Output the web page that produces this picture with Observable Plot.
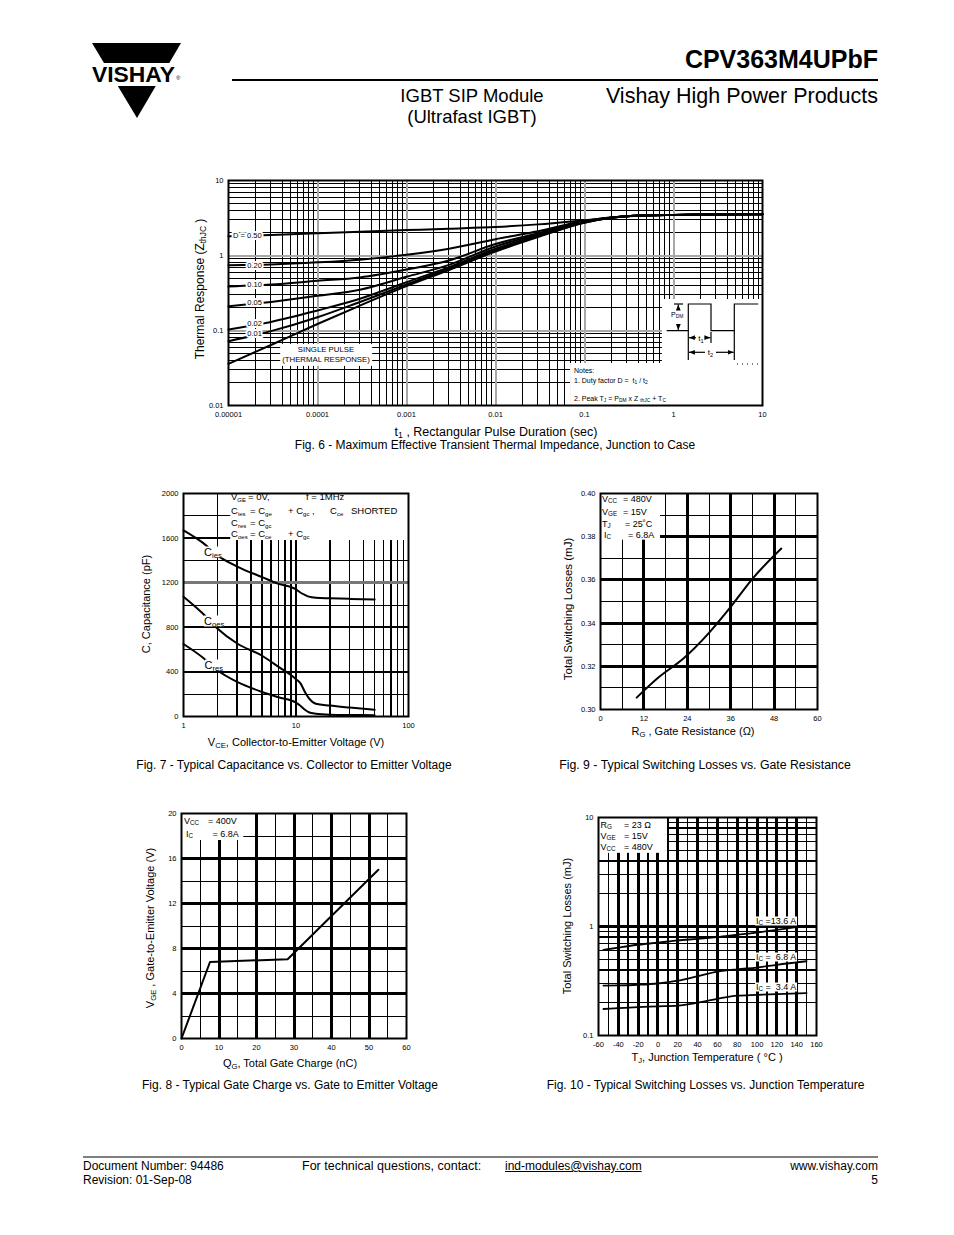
<!DOCTYPE html>
<html><head><meta charset="utf-8">
<script src="https://cdn.jsdelivr.net/npm/d3@7"></script>
<script src="https://cdn.jsdelivr.net/npm/@observablehq/plot@0.6"></script>
<style>
html,body{margin:0;padding:0;background:#fff;}
#page{position:relative;width:954px;height:1235px;background:#fff;overflow:hidden;font-family:"Liberation Sans",Arial,Helvetica,sans-serif;color:#000;}
.t{position:absolute;white-space:pre;line-height:1;}
.t sub{font-size:70%;vertical-align:-0.28em;line-height:0;}
.t.sm sub{font-size:64%;}
.wb{background:#fff;}
</style></head>
<body><div id="page"></div>
<script>
// ---------------- DATA ----------------
// Fig 6: transient thermal impedance
const f6Time = [1e-5, 3e-5, 1e-4, 3e-4, 1e-3, 3e-3, 1e-2, 3e-2, 0.1, 0.3, 1, 3, 10];
const f6D50 = [1.80, 1.88, 1.98, 2.08, 2.18, 2.28, 2.40, 2.60, 2.95, 3.34, 3.48, 3.53, 3.55];
const f6D20 = [0.74, 0.76, 0.81, 0.88, 1.02, 1.23, 1.65, 2.10, 2.90, 3.34, 3.48, 3.53, 3.55];
const f6D10 = [0.385, 0.41, 0.46, 0.51, 0.65, 0.86, 1.42, 1.98, 2.85, 3.34, 3.48, 3.53, 3.55];
const f6D05 = [0.21, 0.24, 0.29, 0.35, 0.52, 0.75, 1.32, 1.90, 2.82, 3.34, 3.48, 3.53, 3.55];
const f6D02 = [0.103, 0.13, 0.185, 0.265, 0.44, 0.70, 1.23, 1.85, 2.78, 3.34, 3.48, 3.53, 3.55];
const f6D01 = [0.072, 0.098, 0.15, 0.24, 0.41, 0.67, 1.18, 1.80, 2.76, 3.34, 3.48, 3.53, 3.55];
const f6Single = [0.036, 0.064, 0.122, 0.215, 0.39, 0.64, 1.13, 1.76, 2.74, 3.33, 3.48, 3.53, 3.55];
const f6XTicks = [0.00001, 0.0001, 0.001, 0.01, 0.1, 1, 10];
const f6XLabels = ["0.00001", "0.0001", "0.001", "0.01", "0.1", "1", "10"];
const f6YTicks = [0.01, 0.1, 1, 10];
const f6YLabels = ["0.01", "0.1", "1", "10"];
const f6Names = ["D = 0.50", "0.20", "0.10", "0.05", "0.02", "0.01"];

// Fig 7: capacitance vs VCE
const f7Vce = [1, 1.5, 2, 3, 5, 7, 10, 11, 12, 13, 15, 20, 30, 50];
const f7Cies = [1670, 1555, 1445, 1345, 1250, 1190, 1140, 1110, 1090, 1075, 1065, 1060, 1055, 1050];
const f7Coes = [1075, 920, 790, 655, 545, 445, 335, 295, 220, 165, 115, 98, 80, 60];
const f7Cres = [650, 525, 415, 310, 220, 172, 125, 95, 60, 38, 25, 16, 13, 12];
const f7XTicks = [1, 10, 100];
const f7XLabels = ["1", "10", "100"];
const f7YTicks = [0, 400, 800, 1200, 1600, 2000];
const f7YLabels = ["0", "400", "800", "1200", "1600", "2000"];

// Fig 8: gate charge
const f8Qg = [0, 7.6, 28.3, 52.5];
const f8Vge = [0, 6.8, 7.05, 15];
const f8XTicks = [0, 10, 20, 30, 40, 50, 60];
const f8XLabels = ["0", "10", "20", "30", "40", "50", "60"];
const f8YTicks = [0, 4, 8, 12, 16, 20];
const f8YLabels = ["0", "4", "8", "12", "16", "20"];

// Fig 9: switching losses vs gate resistance
const f9Rg = [10, 16, 23, 30, 36, 42, 50];
const f9E = [0.3055, 0.3148, 0.3237, 0.3355, 0.3475, 0.3605, 0.3745];
const f9XTicks = [0, 12, 24, 36, 48, 60];
const f9XLabels = ["0", "12", "24", "36", "48", "60"];
const f9YTicks = [0.30, 0.32, 0.34, 0.36, 0.38, 0.40];
const f9YLabels = ["0.30", "0.32", "0.34", "0.36", "0.38", "0.40"];

// Fig 10: switching losses vs junction temperature
const f10Tj = [-55, -40, -20, 0, 20, 40, 60, 80, 100, 120, 150];
const f10Ic136 = [0.61, 0.64, 0.68, 0.71, 0.745, 0.77, 0.80, 0.84, 0.88, 0.93, 1.02];
const f10Ic68 = [0.287, 0.288, 0.292, 0.30, 0.318, 0.35, 0.385, 0.405, 0.42, 0.445, 0.48];
const f10Ic34 = [0.175, 0.178, 0.182, 0.185, 0.188, 0.20, 0.217, 0.232, 0.236, 0.24, 0.245];
const f10XTicks = [-60, -40, -20, 0, 20, 40, 60, 80, 100, 120, 140, 160];
const f10XLabels = ["-60", "-40", "-20", "0", "20", "40", "60", "80", "100", "120", "140", "160"];
const f10YTicks = [0.1, 1, 10];
const f10YLabels = ["0.1", "1", "10"];

// ---------------- HELPERS ----------------
const FONT = '"Liberation Sans", Arial, Helvetica, sans-serif';
const page = document.getElementById("page");

function txt(html, x, y, size, anchor, opt) {
  opt = opt || {};
  const d = document.createElement("div");
  d.className = "t" + (opt.bg ? " wb" : "") + (opt.sm ? " sm" : "");
  d.innerHTML = html;
  d.style.left = x + "px";
  d.style.top = y + "px";
  d.style.fontSize = size + "px";
  if (opt.bold) d.style.fontWeight = "bold";
  if (opt.pad) d.style.padding = opt.pad;
  if (opt.underline) d.style.textDecoration = "underline";
  if (opt.lh) d.style.lineHeight = opt.lh;
  if (opt.align) d.style.textAlign = opt.align;
  const ax = anchor === "middle" ? "-50%" : anchor === "end" ? "-100%" : "0";
  d.style.transform = opt.rotate ? "translate(-50%,-50%) rotate(-90deg)" : `translate(${ax},-50%)`;
  page.appendChild(d);
  return d;
}

function tidy(xs, series) {
  return series.flatMap(s => xs.map((x, i) => ({x, y: s.values[i], z: s.name})));
}
const logMinor = (a, b) => d3.range(a, b).flatMap(e => d3.range(2, 10).map(k => k * Math.pow(10, e)));

function axes(xt, xl, yt, yl) {
  const xm = new Map(xt.map((d, i) => [d, xl[i]]));
  const ym = new Map(yt.map((d, i) => [d, yl[i]]));
  return [
    Plot.axisX({ticks: xt, tickSize: 0, tickPadding: 6, tickFormat: d => xm.get(d), label: null}),
    Plot.axisY({ticks: yt, tickSize: 0, tickPadding: 5, tickFormat: d => ym.get(d), label: null})
  ];
}
const grid = (arr, dim, c = "#000", w = 1) =>
  (dim === "x" ? Plot.ruleX : Plot.ruleY)(arr, {stroke: c, strokeWidth: w, shapeRendering: "crispEdges"});

function chart(o) {
  const svg = Plot.plot({
    width: o.width, height: o.height,
    marginLeft: o.ml, marginRight: o.mr, marginTop: o.mt, marginBottom: o.mb,
    x: o.x, y: o.y,
    style: {fontFamily: FONT, fontSize: "7.5px", color: "#000", background: "transparent", overflow: "visible"},
    marks: o.marks
  });
  svg.style.position = "absolute";
  svg.style.left = o.left + "px";
  svg.style.top = o.top + "px";
  svg.style.maxWidth = "none";
  page.appendChild(svg);
  return svg;
}
const frame = Plot.frame({stroke: "#000", strokeWidth: 2});

// ---------------- FIG 6 ----------------
const f6Data = tidy(f6Time, [
  {name: "0.50", values: f6D50}, {name: "0.20", values: f6D20}, {name: "0.10", values: f6D10},
  {name: "0.05", values: f6D05}, {name: "0.02", values: f6D02}, {name: "0.01", values: f6D01},
  {name: "single", values: f6Single}
]);
const f6LabelPos = [
  {x: 1.63e-5, y: 1.82}, {x: 1.96e-5, y: 0.736}, {x: 1.96e-5, y: 0.406},
  {x: 1.96e-5, y: 0.234}, {x: 1.96e-5, y: 0.123}, {x: 1.96e-5, y: 0.090}
].map((p, i) => ({...p, text: f6Names[i]}));

chart({
  left: 180, top: 172, width: 600, height: 255, ml: 48, mr: 18, mt: 8, mb: 22,
  x: {type: "log", domain: [1e-5, 10]},
  y: {type: "log", domain: [0.01, 10]},
  marks: [
    grid(logMinor(-5, 1), "x"),
    grid(logMinor(-2, 1), "y"),
    grid([1e-4, 1e-3, 1e-2, 1e-1, 1], "x", "#a8a8a8", 2),
    grid([0.1, 1], "y", "#a8a8a8", 2),
    Plot.rect([{x1: 0.75, x2: 10, y1: 0.0363, y2: 0.259}, {x1: 0.0697, x2: 10, y1: 0.01, y2: 0.0363}],
      {x1: "x1", x2: "x2", y1: "y1", y2: "y2", fill: "#fff"}),
    Plot.line(f6Data, {x: "x", y: "y", z: "z", stroke: "#000", strokeWidth: 2, curve: "monotone-x"}),
    Plot.text(f6LabelPos, {x: "x", y: "y", text: "text", fontSize: 7.5, fill: "#000", stroke: "#fff", strokeWidth: 4}),
    ...axes(f6XTicks, f6XLabels, f6YTicks, f6YLabels),
    frame
  ]
});

// ---------------- FIG 7 ----------------
const f7Data = tidy(f7Vce, [
  {name: "Cies", values: f7Cies}, {name: "Coes", values: f7Coes}, {name: "Cres", values: f7Cres}
]);
chart({
  left: 140, top: 485, width: 280, height: 250, ml: 43, mr: 12, mt: 8, mb: 19,
  x: {type: "log", domain: [1, 100]},
  y: {domain: [0, 2000]},
  marks: [
    grid(logMinor(0, 2), "x", "#000", 1.5),
    grid([10], "x", "#000", 2),
    grid([200, 600, 1000, 1400, 1800], "y", "#000", 1),
    grid([400, 800, 1600], "y", "#000", 2),
    grid([1200], "y", "#777", 2.5),
    Plot.rect([{x1: 2.63, x2: 100, y1: 1578, y2: 2000}], {x1: "x1", x2: "x2", y1: "y1", y2: "y2", fill: "#fff"}),
    Plot.line(f7Data, {x: "x", y: "y", z: "z", stroke: "#000", strokeWidth: 2, curve: "monotone-x"}),
    ...axes(f7XTicks, f7XLabels, f7YTicks, f7YLabels),
    frame
  ]
});

// ---------------- FIG 9 ----------------
chart({
  left: 560, top: 485, width: 270, height: 240, ml: 40, mr: 13, mt: 8, mb: 16,
  x: {domain: [0, 60]},
  y: {domain: [0.30, 0.40]},
  marks: [
    grid([6, 18, 30, 42, 54], "x", "#000", 1),
    grid([12, 24, 36, 48], "x", "#000", 3),
    grid([0.31, 0.33, 0.35, 0.37, 0.39], "y", "#000", 1),
    grid([0.32, 0.34, 0.36, 0.38], "y", "#000", 3),
    Plot.rect([{x1: 0, x2: 16.6, y1: 0.3784, y2: 0.40}], {x1: "x1", x2: "x2", y1: "y1", y2: "y2", fill: "#fff"}),
    Plot.line(f9Rg.map((r, i) => ({x: r, y: f9E[i]})), {x: "x", y: "y", stroke: "#000", strokeWidth: 2, curve: "monotone-x"}),
    ...axes(f9XTicks, f9XLabels, f9YTicks, f9YLabels),
    frame
  ]
});

// ---------------- FIG 8 ----------------
chart({
  left: 140, top: 805, width: 280, height: 250, ml: 41, mr: 14, mt: 8, mb: 17,
  x: {domain: [0, 60]},
  y: {domain: [0, 20]},
  marks: [
    grid([5, 15, 25, 35, 45, 55], "x", "#000", 1),
    grid([10, 20, 30, 40, 50], "x", "#000", 3),
    grid([2, 6, 10, 14, 18], "y", "#000", 1),
    grid([4, 8, 12, 16], "y", "#000", 3),
    Plot.rect([{x1: 0, x2: 16.6, y1: 17.6, y2: 20}], {x1: "x1", x2: "x2", y1: "y1", y2: "y2", fill: "#fff"}),
    Plot.line(f8Qg.map((q, i) => ({x: q, y: f8Vge[i]})), {x: "x", y: "y", stroke: "#000", strokeWidth: 2}),
    ...axes(f8XTicks, f8XLabels, f8YTicks, f8YLabels),
    frame
  ]
});

// ---------------- FIG 10 ----------------
const f10Data = tidy(f10Tj, [
  {name: "13.6", values: f10Ic136}, {name: "6.8", values: f10Ic68}, {name: "3.4", values: f10Ic34}
]);
chart({
  left: 560, top: 809, width: 270, height: 245, ml: 38, mr: 14, mt: 8, mb: 19,
  x: {domain: [-60, 160]},
  y: {type: "log", domain: [0.1, 10]},
  marks: [
    grid(d3.range(-50, 160, 20), "x", "#000", 1.5),
    grid(d3.range(-40, 160, 20), "x", "#000", 3),
    grid(logMinor(-1, 1), "y", "#000", 1.5),
    grid([1], "y", "#000", 3),
    Plot.rect([{x1: -60, x2: 9.6, y1: 4.69, y2: 10}], {x1: "x1", x2: "x2", y1: "y1", y2: "y2", fill: "#fff"}),
    Plot.line(f10Data, {x: "x", y: "y", z: "z", stroke: "#000", strokeWidth: 1.8, curve: "monotone-x"}),
    ...axes(f10XTicks, f10XLabels, f10YTicks, f10YLabels),
    frame
  ]
});

// ---------------- OVERLAY GRAPHICS ----------------
const ov = d3.create("svg").attr("width", 954).attr("height", 1235)
  .style("position", "absolute").style("left", "0px").style("top", "0px").style("pointer-events", "none");
const defs = ov.append("defs");
defs.append("marker").attr("id", "ah").attr("viewBox", "0 0 10 10").attr("refX", 10).attr("refY", 5)
  .attr("markerWidth", 5).attr("markerHeight", 5).attr("orient", "auto")
  .append("path").attr("d", "M0,1L10,5L0,9z").attr("fill", "#000");
// logo
ov.append("polygon").attr("points", "92,43 181,43 137,118").attr("fill", "#000");
ov.append("rect").attr("x", 84).attr("y", 63).attr("width", 104).attr("height", 23).attr("fill", "#fff");
ov.append("text").attr("x", 92).attr("y", 81.5).attr("font-size", 21.5).attr("font-weight", "bold")
  .attr("font-family", FONT).attr("textLength", 83).attr("lengthAdjust", "spacingAndGlyphs").text("VISHAY");
ov.append("text").attr("x", 176).attr("y", 80).attr("font-size", 6).attr("font-family", FONT).text("®");
// rules
ov.append("line").attr("x1", 232).attr("x2", 878).attr("y1", 80).attr("y2", 80).attr("stroke", "#000").attr("stroke-width", 2);
ov.append("line").attr("x1", 83).attr("x2", 878).attr("y1", 1157).attr("y2", 1157).attr("stroke", "#000").attr("stroke-width", 1.2);
// pulse diagram (Fig 6 inset)
const pg = ov.append("g").attr("stroke", "#000").attr("fill", "none").attr("stroke-width", 1.2);
pg.append("path").attr("d", "M666.7,330.7H688.3V304H711V330.7H734.3V304H758.3");
pg.append("line").attr("x1", 678.3).attr("y1", 310).attr("x2", 678.3).attr("y2", 304.6).attr("marker-end", "url(#ah)");
pg.append("line").attr("x1", 678.3).attr("y1", 324).attr("x2", 678.3).attr("y2", 330.1).attr("marker-end", "url(#ah)");
pg.append("line").attr("x1", 674).attr("y1", 304).attr("x2", 683).attr("y2", 304);
pg.append("line").attr("x1", 696).attr("y1", 337.7).attr("x2", 688.9).attr("y2", 337.7).attr("marker-end", "url(#ah)");
pg.append("line").attr("x1", 706).attr("y1", 337.7).attr("x2", 710.4).attr("y2", 337.7).attr("marker-end", "url(#ah)");
pg.append("line").attr("x1", 711).attr("y1", 332).attr("x2", 711).attr("y2", 343);
pg.append("line").attr("x1", 705).attr("y1", 352.3).attr("x2", 688.9).attr("y2", 352.3).attr("marker-end", "url(#ah)");
pg.append("line").attr("x1", 716).attr("y1", 352.3).attr("x2", 733.7).attr("y2", 352.3).attr("marker-end", "url(#ah)");
pg.append("line").attr("x1", 688.3).attr("y1", 330.7).attr("x2", 688.3).attr("y2", 360);
pg.append("line").attr("x1", 734.3).attr("y1", 330.7).attr("x2", 734.3).attr("y2", 360);
pg.append("line").attr("x1", 737).attr("y1", 364).attr("x2", 761).attr("y2", 364).attr("stroke-dasharray", "1,4");
page.appendChild(ov.node());

// ---------------- TEXT ----------------
// header
txt("CPV363M4UPbF", 878, 59, 25, "end", {bold: true});
txt("IGBT SIP Module", 472, 96, 18.5, "middle");
txt("(Ultrafast IGBT)", 472, 117, 18.5, "middle");
txt("Vishay High Power Products", 878, 97, 21.5, "end");

// Fig 6 texts
txt("Thermal Response (Z<sub>thJC</sub> )", 200, 289, 12, "middle", {rotate: true});
txt("t<sub>1</sub> , Rectangular Pulse Duration (sec)", 496, 432, 12.5, "middle");
txt("Fig. 6 - Maximum Effective Transient Thermal Impedance, Junction to Case", 495, 445, 12, "middle");
txt("SINGLE PULSE\n(THERMAL RESPONSE)", 326, 355, 7.8, "middle", {bg: true, lh: "1.3", align: "center", pad: "1px 2px"});
txt("Notes:", 574, 369.5, 7);
txt("1. Duty factor D =  t<sub>1</sub> / t<sub>2</sub>", 574, 380, 7);
txt("2. Peak T<sub>J</sub> = P<sub>DM</sub> x Z <sub>thJC</sub> + T<sub>C</sub>", 574, 398, 7);
txt("P<sub>DM</sub>", 671, 314, 7);
txt("t<sub>1</sub>", 701, 338.5, 8, "middle");
txt("t<sub>2</sub>", 710.5, 353, 8, "middle");

// Fig 7 texts
txt("C, Capacitance (pF)", 146, 604, 11, "middle", {rotate: true});
txt("V<sub>CE</sub>, Collector-to-Emitter Voltage (V)", 296, 742, 11, "middle");
txt("Fig. 7 - Typical Capacitance vs. Collector to Emitter Voltage", 294, 765, 12, "middle");
const L7 = 9.5;
txt("V<sub>GE</sub>", 231, 497.3, L7, "start", {sm: true}); txt("= 0V,", 248, 497.3, L7); txt("f = 1MHz", 306, 497.3, L7);
txt("C<sub>ies</sub>", 231, 510.7, L7, "start", {sm: true}); txt("= C<sub>ge</sub>", 250, 510.7, L7, "start", {sm: true});
txt("+ C<sub>gc</sub> ,", 288, 510.7, L7, "start", {sm: true});
txt("C<sub>ce</sub>", 330, 510.7, L7, "start", {sm: true}); txt("SHORTED", 351, 510.7, L7);
txt("C<sub>res</sub>", 231, 523.3, L7, "start", {sm: true}); txt("= C<sub>gc</sub>", 250, 523.3, L7, "start", {sm: true});
txt("C<sub>oes</sub>", 231, 533.5, L7, "start", {sm: true}); txt("= C<sub>ce</sub>", 250, 533.5, L7, "start", {sm: true});
txt("+ C<sub>gc</sub>", 288, 533.5, L7, "start", {sm: true});
txt("C<sub>ies</sub>", 204, 552, 11, "start", {bg: true});
txt("C<sub>oes</sub>", 204, 621, 11, "start", {bg: true});
txt("C<sub>res</sub>", 204.5, 665, 11, "start", {bg: true});

// Fig 9 texts
txt("Total Switching Losses (mJ)", 569, 609, 11.5, "middle", {rotate: true});
txt("R<sub>G</sub> , Gate Resistance (Ω)", 693, 731, 11, "middle");
txt("Fig. 9 - Typical Switching Losses vs. Gate Resistance", 705, 765, 12.3, "middle");
txt("V<sub>CC</sub>", 602, 499, 9); txt("= 480V", 623, 499, 9);
txt("V<sub>GE</sub>", 602, 512, 9); txt("= 15V", 623, 512, 9);
txt("T<sub>J</sub>", 602, 523.5, 9); txt("= 25˚C", 625, 523.5, 9);
txt("I<sub>C</sub>", 604, 534.5, 9); txt("= 6.8A", 628, 534.5, 9);

// Fig 8 texts
txt("V<sub>GE</sub> , Gate-to-Emitter Voltage (V)", 150, 928, 11, "middle", {rotate: true});
txt("Q<sub>G</sub>, Total Gate Charge (nC)", 290, 1063, 11, "middle");
txt("Fig. 8 - Typical Gate Charge vs. Gate to Emitter Voltage", 290, 1085, 12, "middle");
txt("V<sub>CC</sub>", 184, 820.7, 9); txt("= 400V", 208, 820.7, 9);
txt("I<sub>C</sub>", 186, 834, 9); txt("= 6.8A", 212.5, 834, 9);

// Fig 10 texts
txt("Total Switching Losses (mJ)", 567, 926, 11, "middle", {rotate: true});
txt("T<sub>J</sub>, Junction Temperature ( °C )", 707, 1057, 11, "middle");
txt("Fig. 10 - Typical Switching Losses vs. Junction Temperature", 705.5, 1085, 12, "middle");
txt("R<sub>G</sub>", 600.5, 825, 9); txt("= 23 Ω", 624, 825, 9);
txt("V<sub>GE</sub>", 600.5, 836, 9); txt("= 15V", 624, 836, 9);
txt("V<sub>CC</sub>", 600.5, 847.3, 9); txt("= 480V", 624, 847.3, 9);
txt("I<sub>C</sub> =13.6 A", 755, 920.5, 9, "start", {bg: true, pad: "0 1px"});
txt("I<sub>C</sub> =  6.8 A", 755, 957, 9, "start", {bg: true, pad: "0 1px"});
txt("I<sub>C</sub> =  3.4 A", 755, 986.5, 9, "start", {bg: true, pad: "0 1px"});

// footer
txt("Document Number: 94486", 83, 1166, 12);
txt("Revision: 01-Sep-08", 83, 1180, 12);
txt("For technical questions, contact: ", 302, 1166, 12.5);
txt("ind-modules@vishay.com", 505, 1166, 12, "start", {underline: true});
txt("www.vishay.com", 878, 1166, 12, "end");
txt("5", 878, 1180, 12, "end");
</script></body></html>
